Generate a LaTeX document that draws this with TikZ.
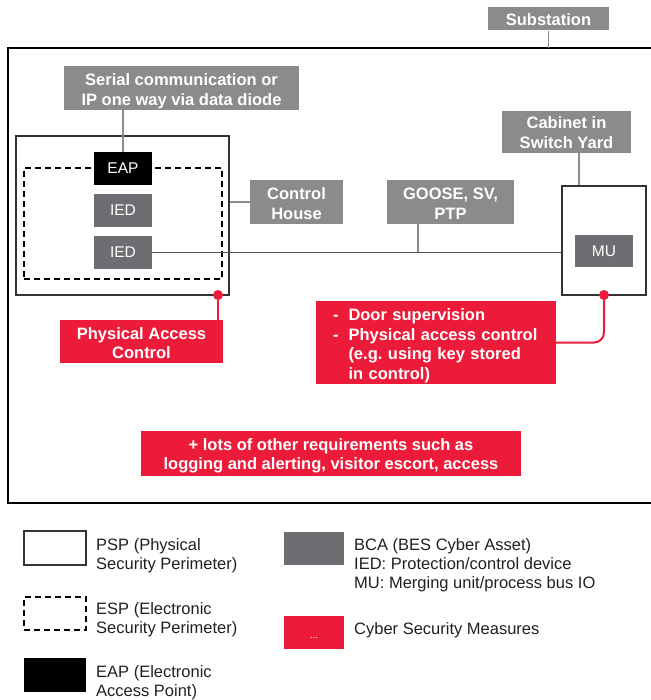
\documentclass[tikz,border=0pt]{standalone}
\usepackage{fontspec}
\setmainfont{Liberation Sans}
\definecolor{lblgray}{HTML}{8A8B8D}
\definecolor{bcagray}{HTML}{6D6E71}
\definecolor{secred}{HTML}{ED1B3A}
\definecolor{legtext}{HTML}{231F20}
\definecolor{pspline}{HTML}{333333}
\definecolor{busgray}{HTML}{555555}
% lower a text block without changing its box
\newcommand{\lowerby}[2]{\raisebox{-#1}[\height][\depth]{#2}}

\begin{document}
\begin{tikzpicture}[x=1pt,y=-1pt,
  lbl/.style={fill=lblgray, text=white, font=\bfseries\fontsize{16.5}{20}\selectfont, align=center, inner sep=0pt},
  bca/.style={fill=bcagray, text=white, font=\fontsize{15.5}{18}\selectfont, inner sep=0pt, minimum width=58pt, minimum height=33pt},
  eapbox/.style={bca, fill=black},
  measure/.style={fill=secred, text=white, font=\bfseries\fontsize{16.5}{19.5}\selectfont, align=center, inner sep=0pt},
  psp/.style={draw=pspline, line width=1.4pt, inner sep=0pt},
  esp/.style={draw=black, line width=1.4pt, dash pattern=on 6pt off 4pt, inner sep=0pt},
  tap/.style={draw=lblgray, line width=1.8pt},
  bus/.style={draw=busgray, line width=1.3pt},
  redline/.style={draw=secred, line width=2pt},
  dot/.style={circle, fill=secred, minimum size=10pt, inner sep=0pt},
  legtxt/.style={anchor=west, align=left, text=legtext, font=\fontsize{16.5}{19}\selectfont, inner sep=0pt},
]
\useasboundingbox (0,0) rectangle (650,700);

% substation perimeter (runs off to the right)
\coordinate (otop) at (0,48);
\draw[line width=2pt] (660,48) -- (8,48) -- (8,503) -- (660,503);

% labels
\node[lbl, minimum width=121pt, minimum height=23pt] (sub) at (548.5,19) {\lowerby{1pt}{Substation}};
\node[lbl, minimum width=235pt, minimum height=44pt] (serial) at (181.5,88)
  {\lowerby{3.5pt}{\begin{tabular}{@{}c@{}}Serial communication or\\IP one way via data diode\end{tabular}}};
\node[lbl, minimum width=93pt, minimum height=44pt] (ch) at (296.5,202)
  {\lowerby{3.5pt}{\begin{tabular}{@{}c@{}}Control\\House\end{tabular}}};
\node[lbl, minimum width=127pt, minimum height=44pt] (goose) at (450.5,202)
  {\lowerby{3.5pt}{\begin{tabular}{@{}c@{}}GOOSE, SV,\\PTP\end{tabular}}};
\node[lbl, minimum width=129pt, minimum height=42pt] (cab) at (566.5,132)
  {\lowerby{2.5pt}{\begin{tabular}{@{}c@{}}Cabinet in\\Switch Yard\end{tabular}}};

% control house perimeters
\node[psp, minimum width=213pt, minimum height=159pt] (psp1) at (122.5,215.5) {};
\node[esp, minimum width=198pt, minimum height=111pt] (esp1) at (123,223.5) {};

% switch yard cabinet perimeter
\node[psp, minimum width=84pt, minimum height=109pt] (psp2) at (604,240.5) {};

% connectors from labels
\draw[tap] (sub.south) -- (sub.south |- otop);
\coordinate (stap) at (123,0);
\draw[tap] (stap |- serial.south) -- (stap |- esp1.north);
\draw[tap] (psp1.east |- ch.west) -- (ch.west);
\coordinate (ctap) at (579,0);
\draw[tap] (ctap |- cab.south) -- (ctap |- psp2.north);

% devices
\node[eapbox] (eap) at (123,168.5) {EAP};
\node[bca] (ied1) at (123,210.5) {IED};
\node[bca] (ied2) at (123,252.5) {IED};
\node[bca, minimum height=32pt] (mu) at (604,251) {MU};

% process bus
\draw[bus] (ied2.east) -- (ied2.east -| psp2.west);
\coordinate (gtap) at (418,0);
\draw[tap] (gtap |- goose.south) -- (gtap |- ied2.east);

% security measures
\node[measure, minimum width=163pt, minimum height=43pt] (pac) at (141.5,341.5)
  {\lowerby{3.5pt}{\begin{tabular}{@{}c@{}}Physical Access\\Control\end{tabular}}};
\node[measure, minimum width=240pt, minimum height=83pt, text width=206pt, align=left] (door) at (436,342.5)
  {\lowerby{3.5pt}{\begin{tabular}{@{}l@{\hspace{10pt}}l@{}}-&Door supervision\\-&Physical access control\\&(e.g.\ using key stored\\&in control)\end{tabular}}};
\node[measure, minimum width=380pt, minimum height=45pt] (other) at (331,453.5)
  {\lowerby{2.5pt}{\begin{tabular}{@{}c@{}}+ lots of other requirements such as\\logging and alerting, visitor escort, access\end{tabular}}};

\node[dot] (d1) at (218,295) {};
\node[dot] (d2) at (604,295) {};
\draw[redline] (d1.center) -- (d1.center |- pac.north);
\draw[redline, rounded corners=10pt] (d2.center) |- (door.east);

% legend
\node[psp, minimum width=62pt, minimum height=34pt] (lgpsp) at (55,548) {};
\node[legtxt] (lgpspt) at (96,556) {PSP (Physical\\Security Perimeter)};
\node[esp, minimum width=62pt, minimum height=33pt] (lgesp) at (55,613.5) {};
\node[legtxt] (lgespt) at (96,620) {ESP (Electronic\\Security Perimeter)};
\node[fill=black, minimum width=62pt, minimum height=34pt, inner sep=0pt] (lgeap) at (55,675) {};
\node[legtxt] (lgeapt) at (96,683) {EAP (Electronic\\Access Point)};
\node[fill=bcagray, minimum width=60pt, minimum height=33pt, inner sep=0pt] (lgbca) at (314,548.5) {};
\node[legtxt] (lgbcat) at (354,565.5) {BCA (BES Cyber Asset)\\IED: Protection/control device\\MU: Merging unit/process bus IO};
\node[fill=secred, text=white, font=\fontsize{10}{10}\selectfont, minimum width=60pt, minimum height=33pt, inner sep=0pt] (lgred) at (314,632.5) {\lowerby{5pt}{...}};
\node[legtxt] (lgredt) at (354,630) {Cyber Security Measures};
\end{tikzpicture}
\end{document}
